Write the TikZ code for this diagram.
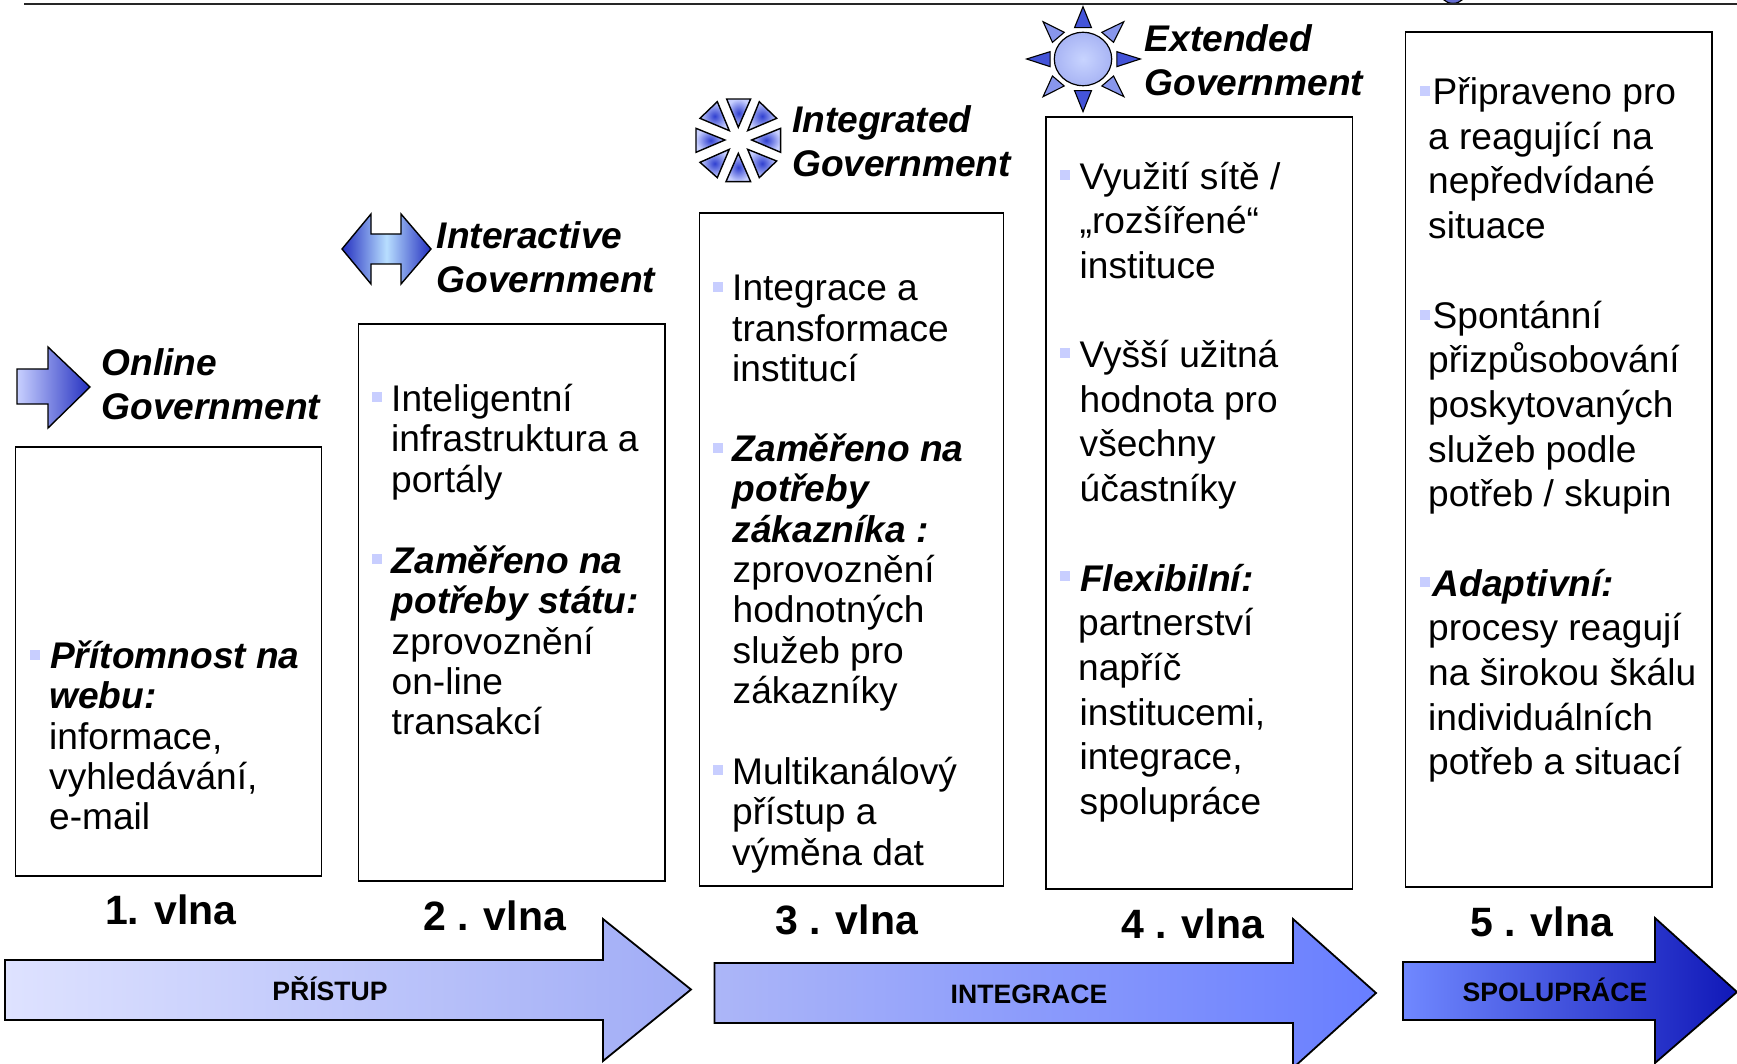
\documentclass[tikz,border=0pt]{standalone}
\usepackage{fontspec}
\setmainfont{Liberation Sans}
\definecolor{bul}{HTML}{C8CEFF}
\definecolor{iconlight}{HTML}{C8D0FF}
\definecolor{icondark}{HTML}{2430C0}
\definecolor{starmid}{HTML}{3040D0}
\definecolor{sundark}{HTML}{4454D8}
\definecolor{sunmid}{HTML}{8896EC}
\newcommand{\fl}{\rule{0pt}{28pt}}
\newcommand{\bi}[1]{{\bfseries\itshape #1}}
\tikzset{
  wavebox/.style={draw=black,line width=1.8pt,fill=white,anchor=north west,inner sep=0pt},
  bulletmark/.style={fill=bul,draw=none,minimum size=10pt,inner sep=0pt},
  bodytext/.style={anchor=north west,inner sep=0pt,align=left,font=\fontsize{37.1}{40.4}\selectfont},
  widetext/.style={anchor=north west,inner sep=0pt,align=left,font=\fontsize{37.1}{44.6}\selectfont},
  govlabel/.style={anchor=north west,inner sep=0pt,align=left,font=\fontsize{37.1}{44.3}\selectfont\bfseries\itshape},
  wavelabel/.style={anchor=base west,inner sep=0pt,font=\fontsize{41}{46}\selectfont\bfseries},
  bandlabel/.style={inner sep=0pt,font=\fontsize{26.6}{30}\selectfont\bfseries},
  outline/.style={draw=black,line width=1.8pt,line join=miter},
  startri/.style={draw=black,line width=1.4pt,line join=miter,inner color=starmid,outer color=iconlight},
  suntri/.style={draw=black,line width=1.1pt,line join=miter,fill=sundark},
  sundiag/.style={draw=black,line width=1.1pt,line join=miter,fill=sunmid},
}
\begin{document}
\begin{tikzpicture}[x=1pt,y=-1pt]
\useasboundingbox (0,0) rectangle (1737,1064);
\clip (0,0) rectangle (1737,1064);
\fill[white] (0,0) rectangle (1737,1064);

% top rule and cut-off dot
\filldraw[fill=icondark!70,draw=black,line width=1.2pt] (1453,-10.6) circle (14);
\coordinate (ruleL) at (24,4);
\coordinate (ruleR) at (1737,4);
\draw[line width=2pt,black!85] (ruleL) -- (ruleR);

% boxes
\node[wavebox,minimum width=306pt,minimum height=429pt] (box1) at (14.5,446) {};
\node[wavebox,minimum width=306.5pt,minimum height=557pt] (box2) at (357.5,323) {};
\node[wavebox,minimum width=304pt,minimum height=673pt] (box3) at (698.5,212) {};
\node[wavebox,minimum width=306.5pt,minimum height=772pt] (box4) at (1045,116) {};
\node[wavebox,minimum width=306.5pt,minimum height=855pt] (box5) at (1404.5,31) {};

% bottom band arrows
\shade[outline,left color={rgb,255:red,222;green,226;blue,255},right color={rgb,255:red,160;green,172;blue,246}]
  (5,960) -- (603,960) -- (603,919) -- (691,989.5) -- (603,1061) -- (603,1020) -- (5,1020) -- cycle;
\shade[outline,left color={rgb,255:red,172;green,182;blue,248},right color={rgb,255:red,104;green,126;blue,255}]
  (714.5,963) -- (1293,963) -- (1293,919) -- (1376,993) -- (1293,1068) -- (1293,1023) -- (714.5,1023) -- cycle;
\shade[outline,left color={rgb,255:red,112;green,136;blue,255},right color={rgb,255:red,16;green,24;blue,184}]
  (1403,962) -- (1655,962) -- (1655,918) -- (1737,992) -- (1655,1063) -- (1655,1020) -- (1403,1020) -- cycle;

\node[bandlabel] (band1) at (330,988.5) {PŘÍSTUP};
\node[bandlabel] (band2) at (1029,994) {INTEGRACE};
\node[bandlabel] (band3) at (1555,989.5) {SPOLUPRÁCE};

% wave labels
\node[wavelabel] (w1) at (105,924) {1. vlna};
\node[wavelabel] (w2) at (423,930) {2 . vlna};
\node[wavelabel] (w3) at (775,934.5) {3 . vlna};
\node[wavelabel] (w4) at (1121,938) {4 . vlna};
\node[wavelabel] (w5) at (1470,936) {5 . vlna};

% government labels
\node[govlabel] (g1) at (101.5,347) {\fl Online\\Government};
\node[govlabel] (g2) at (436.5,220.5) {\fl Interactive\\Government};
\node[govlabel] (g3) at (792,104.5) {\fl Integrated\\Government};
\node[govlabel] (g4) at (1144.5,23) {\fl Extended\\Government};

% icon: online arrow
\shade[draw=black,line width=1.4pt,left color=iconlight,right color=icondark]
  (17,369) -- (48,369) -- (48,347) -- (90,387) -- (48,428) -- (48,404) -- (17,404) -- cycle;
% icon: interactive double arrow
\shade[draw=black,line width=1.4pt,left color=icondark,right color=icondark,middle color={rgb,255:red,184;green,222;blue,255}]
  (342,249) -- (371,214) -- (371,234) -- (401,234) -- (401,214) -- (431,249) -- (401,284) -- (401,264) -- (371,264) -- (371,284) -- cycle;

% icon: integrated star
\begin{scope}[shift={(738.3,140)},x=0.3333pt,y=-0.3333pt]
  \shade[startri] (-37,125) -- (37,125) -- (0,40) -- cycle;
  \shade[startri] (-35,-123) -- (37,-123) -- (0,-38) -- cycle;
  \shade[startri] (-127,37) -- (-127,-35) -- (-40,0) -- cycle;
  \shade[startri] (127,37) -- (127,-35) -- (40,0) -- cycle;
  \shade[startri] (-63,113) -- (-115,67) -- (-27,28) -- cycle;
  \shade[startri] (63,113) -- (115,63) -- (28,28) -- cycle;
  \shade[startri] (-115,-65) -- (-63,-115) -- (-27,-28) -- cycle;
  \shade[startri] (115,-65) -- (63,-115) -- (28,-28) -- cycle;
\end{scope}

% icon: extended sun
\begin{scope}[shift={(1083,59)},x=0.47pt,y=-0.3333pt]
  \fill[suntri] (-18,95) -- (18,95) -- (0,158) -- cycle;
  \fill[suntri] (-18,-94) -- (18,-94) -- (0,-157) -- cycle;
  \fill[suntri] (72,23) -- (72,-22) -- (122,0) -- cycle;
  \fill[suntri] (-70,23) -- (-70,-22) -- (-120,0) -- cycle;
  \fill[sundiag] (87,113) -- (40,81) -- (65,51) -- cycle;
  \fill[sundiag] (-85,113) -- (-40,81) -- (-65,51) -- cycle;
  \fill[sundiag] (87,-112) -- (40,-80) -- (65,-50) -- cycle;
  \fill[sundiag] (-85,-112) -- (-40,-80) -- (-65,-50) -- cycle;
\end{scope}
\shade[draw=black,line width=1.2pt,inner color={rgb,255:red,200;green,212;blue,255},outer color={rgb,255:red,168;green,180;blue,244}] (1083,59) ellipse (28.7 and 26.7);

% box 1
\node[bulletmark] (b11) at (34.5,655) {};
\node[bodytext] (t11) at (49,640) {\fl\hspace*{1pt}\bi{Přítomnost na}\\\bi{webu:}\\informace,\\vyhledávání,\\e-mail};

% box 2
\node[bulletmark] (b21) at (376.5,397) {};
\node[bodytext] (t21) at (391,383) {\fl Inteligentní\\infrastruktura a\\portály};
\node[bulletmark] (b22) at (376.5,559) {};
\node[bodytext] (t22) at (391.5,545) {\fl\bi{Zaměřeno na}\\\bi{potřeby státu:}\\zprovoznění\\on-line\\transakcí};

% box 3
\node[bulletmark] (b31) at (717.5,287) {};
\node[bodytext] (t31) at (732,272.5) {\fl Integrace a\\transformace\\institucí};
\node[bulletmark] (b32) at (717.5,447.5) {};
\node[bodytext] (t32) at (732.5,433) {\fl\bi{Zaměřeno na}\\\bi{potřeby}\\\bi{zákazníka :}\\zprovoznění\\hodnotných\\služeb pro\\zákazníky};
\node[bulletmark] (b33) at (717.5,770) {};
\node[bodytext] (t33) at (732,756) {\fl Multikanálový\\přístup a\\výměna dat};

% box 4
\node[bulletmark] (b41) at (1064.5,175) {};
\node[widetext] (t41) at (1079.5,161) {\fl Využití sítě /\\„rozšířené“\\instituce};
\node[bulletmark] (b42) at (1064.5,353) {};
\node[widetext] (t42) at (1079.5,339.5) {\fl Vyšší užitná\\hodnota pro\\všechny\\účastníky};
\node[bulletmark] (b43) at (1064.5,576) {};
\node[widetext] (t43) at (1078,563) {\fl\hspace*{2pt}\bi{Flexibilní:}\\partnerství\\napříč\\\hspace*{1.5pt}institucemi,\\\hspace*{1.5pt}integrace,\\\hspace*{1.5pt}spolupráce};

% box 5
\node[bulletmark] (b51) at (1424.5,91) {};
\node[widetext] (t51) at (1428,76.5) {\fl\hspace*{4.5pt}Připraveno pro\\a reagující na\\nepředvídané\\situace};
\node[bulletmark] (b52) at (1424.5,315) {};
\node[widetext] (t52) at (1428,300) {\fl\hspace*{4.5pt}Spontánní\\přizpůsobování\\poskytovaných\\služeb podle\\potřeb / skupin};
\node[bulletmark] (b53) at (1424.5,582) {};
\node[widetext] (t53) at (1428,568) {\fl\hspace*{4.5pt}\bi{Adaptivní:}\\procesy reagují\\na širokou škálu\\individuálních\\potřeb a situací};
\end{tikzpicture}
\end{document}
